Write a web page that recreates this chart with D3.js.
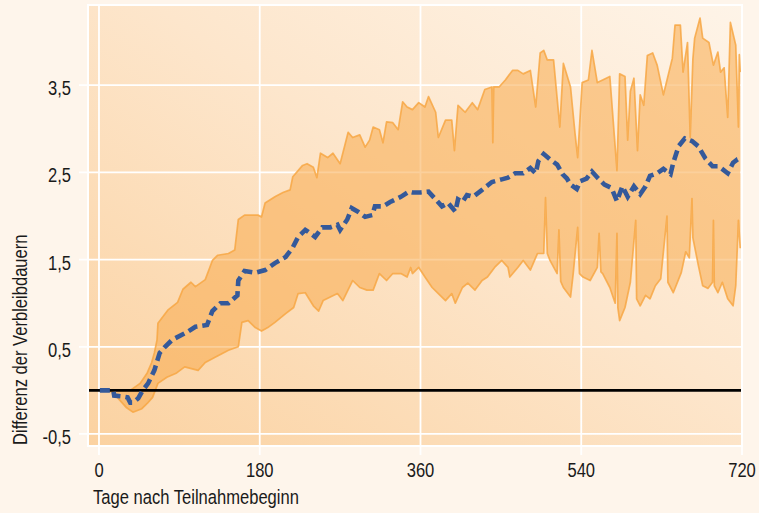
<!DOCTYPE html>
<html>
<head>
<meta charset="utf-8">
<script src="https://cdn.jsdelivr.net/npm/d3@7"></script>
<style>
  html, body { margin: 0; padding: 0; background: #fef5eb; }
  svg { display: block; }
  text { font-family: "Liberation Sans", Arial, sans-serif; fill: #1a1a1a; }
</style>
</head>
<body>
<svg id="chart" width="759" height="513"></svg>
<script>
// ---- data ----
const xTicks = [0, 180, 360, 540, 720];
const yTicks = [-0.5, 0.5, 1.5, 2.5, 3.5];
const xTitle = "Tage nach Teilnahmebeginn";
const yTitle = "Differenz der Verbleibdauern";

// upper edge of the confidence band [day, value]
const bandUpper = [[0,0],[35,0],[46,0.08],[54,0.20],[59,0.32],[62,0.43],[65,0.58],[66,0.77],[77,0.92],[88,1.01],[94,1.16],[103,1.24],[108,1.19],[119,1.27],[127,1.49],[133,1.55],[145,1.57],[152,1.61],[156,1.96],[163,2.01],[171,2.01],[178,2.01],[182,1.99],[186,2.15],[197,2.22],[206,2.27],[214,2.30],[217,2.45],[228,2.58],[233,2.60],[240,2.56],[244,2.44],[248,2.72],[256,2.67],[262,2.72],[270,2.60],[273,2.72],[279,2.96],[284,2.90],[292,2.93],[298,2.79],[303,2.87],[307,3.02],[314,2.99],[318,2.84],[322,3.08],[329,3.07],[335,2.99],[340,3.31],[345,3.25],[351,3.22],[358,3.30],[365,3.25],[369,3.37],[377,3.19],[380,2.90],[388,3.10],[395,3.10],[398,2.75],[402,3.27],[410,3.19],[418,3.30],[424,3.22],[432,3.45],[440,3.48],[441,2.84],[442,3.48],[448,3.48],[455,3.56],[463,3.67],[469,3.67],[475,3.63],[483,3.67],[489,3.25],[494,3.87],[498,3.90],[502,3.79],[509,3.79],[516,3.02],[520,3.75],[528,3.48],[533,2.95],[536,2.67],[541,3.53],[548,3.56],[552,3.90],[558,3.53],[564,3.56],[572,3.60],[580,2.52],[583,3.63],[589,3.60],[592,2.87],[595,3.43],[599,3.58],[603,2.75],[606,3.39],[610,3.27],[614,3.84],[620,3.87],[625,3.73],[632,3.39],[642,3.81],[645,4.19],[651,4.19],[654,3.65],[659,3.99],[662,2.90],[665,3.80],[667,4.04],[673,4.27],[676,4.04],[683,3.99],[688,3.73],[693,3.88],[696,3.65],[700,3.70],[704,3.13],[707,4.22],[713,3.96],[716,3.02],[717,3.85],[718,3.65]];

// lower edge of the confidence band [day, value]
const bandLower = [[0,0],[12,-0.01],[16,-0.03],[24,-0.12],[31,-0.20],[38,-0.25],[48,-0.21],[54,-0.15],[60,-0.08],[66,0.08],[76,0.15],[87,0.20],[96,0.27],[111,0.23],[119,0.32],[130,0.38],[145,0.46],[156,0.50],[160,0.78],[167,0.80],[175,0.72],[182,0.68],[189,0.72],[197,0.78],[209,0.88],[218,0.95],[223,1.11],[231,1.12],[240,0.97],[246,0.91],[251,1.03],[259,1.07],[267,1.11],[273,1.03],[284,1.26],[292,1.18],[300,1.15],[307,1.15],[314,1.34],[322,1.26],[329,1.34],[338,1.34],[345,1.30],[349,1.41],[351,1.34],[358,1.41],[365,1.30],[373,1.18],[380,1.11],[388,1.03],[395,1.11],[399,1.00],[407,1.18],[413,1.23],[421,1.15],[429,1.26],[435,1.30],[443,1.41],[451,1.49],[458,1.41],[460,1.30],[469,1.41],[475,1.49],[483,1.38],[491,1.57],[498,1.57],[500,2.21],[502,1.57],[505,1.49],[513,1.34],[515,1.84],[517,1.25],[520,1.18],[528,1.07],[531,1.34],[536,1.87],[538,1.34],[542,1.30],[550,1.26],[558,1.41],[560,1.80],[562,1.36],[564,1.34],[572,1.18],[578,1.00],[580,1.80],[581,0.95],[583,0.80],[589,0.95],[595,1.24],[601,1.95],[602,1.05],[606,0.97],[612,1.09],[617,1.05],[623,1.20],[629,1.28],[636,2.00],[637,1.24],[643,1.12],[652,1.35],[657,1.59],[661,1.52],[664,2.20],[665,1.75],[671,1.44],[676,1.20],[682,1.17],[687,1.24],[688,1.95],[689,1.20],[693,1.12],[698,1.24],[704,1.05],[710,0.97],[713,1.20],[716,1.95],[718,1.63]];

// point estimate [day, value]
const meanLine = [[1,0],[16,0],[17,-0.06],[27,-0.07],[32,-0.08],[35,-0.14],[38,-0.14],[44,-0.09],[49,0],[55,0.08],[62,0.23],[68,0.43],[74,0.50],[82,0.58],[99,0.67],[108,0.73],[121,0.75],[127,0.91],[136,1.00],[145,1.00],[155,1.09],[156,1.26],[163,1.37],[175,1.35],[186,1.38],[197,1.46],[209,1.53],[217,1.64],[223,1.76],[231,1.84],[234,1.82],[242,1.76],[250,1.87],[259,1.87],[267,1.90],[270,1.84],[278,1.96],[283,2.09],[290,2.05],[298,1.99],[306,2.01],[309,2.11],[318,2.11],[326,2.16],[338,2.22],[347,2.28],[351,2.27],[360,2.27],[369,2.28],[377,2.19],[384,2.11],[391,2.15],[399,2.05],[402,2.19],[407,2.16],[412,2.24],[419,2.22],[429,2.30],[440,2.39],[451,2.42],[458,2.44],[466,2.49],[475,2.49],[483,2.55],[489,2.49],[492,2.63],[498,2.71],[505,2.65],[513,2.59],[519,2.48],[524,2.43],[528,2.36],[535,2.31],[539,2.40],[546,2.43],[552,2.51],[559,2.43],[566,2.36],[574,2.32],[580,2.17],[586,2.34],[592,2.22],[599,2.34],[606,2.25],[612,2.34],[617,2.46],[625,2.49],[632,2.54],[640,2.48],[643,2.61],[649,2.80],[656,2.89],[664,2.86],[671,2.80],[679,2.66],[687,2.57],[694,2.57],[704,2.49],[710,2.61],[715,2.65],[718,2.66]];

// ---- layout ----
const svg = d3.select("#chart");
const W = 759, H = 513;
const pLeft = 88, pRight = 742, pTop = 5, pBottom = 446;
const FS = 19.5, SX = 0.85; // condensed look

const x = d3.scaleLinear().domain([-12.3, 720]).range([pLeft, pRight]);
const y = d3.scaleLinear().domain([-0.638, 4.42]).range([pBottom, pTop]);

svg.append("rect").attr("width", W).attr("height", H).attr("fill", "#fef5eb");

const defs = svg.append("defs");
const grad = defs.append("linearGradient").attr("id", "panelGrad")
  .attr("x1", "0%").attr("y1", "100%").attr("x2", "100%").attr("y2", "0%");
grad.append("stop").attr("offset", "0%").attr("stop-color", "#fbd2a1");
grad.append("stop").attr("offset", "55%").attr("stop-color", "#fde6cc");
grad.append("stop").attr("offset", "100%").attr("stop-color", "#fef4e8");

svg.append("rect").attr("x", pLeft).attr("y", pTop)
  .attr("width", pRight - pLeft).attr("height", pBottom - pTop)
  .attr("fill", "url(#panelGrad)");

// gridlines + ticks (white)
const grid = svg.append("g");
grid.selectAll("line.h").data(yTicks).join("line")
  .attr("x1", pLeft - 9).attr("x2", pRight)
  .attr("y1", d => y(d)).attr("y2", d => y(d))
  .attr("stroke", "#ffffff").attr("stroke-width", 1.8);
grid.selectAll("line.v").data(xTicks).join("line")
  .attr("y1", pTop).attr("y2", pBottom + 9)
  .attr("x1", d => x(d)).attr("x2", d => x(d))
  .attr("stroke", "#ffffff").attr("stroke-width", 1.8);

// band
const line = d3.line().x(d => x(d[0])).y(d => y(d[1]));
const poly = bandUpper.concat(bandLower.slice().reverse());
svg.append("path").attr("d", line(poly) + "Z")
  .attr("fill", "rgb(247,170,75)").attr("fill-opacity", 0.55).attr("stroke", "none");
[bandUpper, bandLower].forEach(b => {
  svg.append("path").attr("d", line(b))
    .attr("fill", "none").attr("stroke", "#f7a744").attr("stroke-width", 1.7)
    .attr("stroke-opacity", 0.85).attr("stroke-linejoin", "round");
});

// zero line
svg.append("line").attr("x1", pLeft).attr("x2", pRight)
  .attr("y1", y(0)).attr("y2", y(0))
  .attr("stroke", "#000000").attr("stroke-width", 2.6);

// mean line
svg.append("path").attr("d", line(meanLine))
  .attr("fill", "none").attr("stroke", "#34599a").attr("stroke-width", 4.6)
  .attr("stroke-dasharray", "10,5");

// panel border
svg.append("rect").attr("x", pLeft).attr("y", pTop)
  .attr("width", pRight - pLeft).attr("height", pBottom - pTop)
  .attr("fill", "none").attr("stroke", "#ffffff").attr("stroke-width", 2);

// tick labels
const fmt = d => d3.format(".1f")(d).replace(".", ",").replace("\u2212", "-");
svg.append("g").selectAll("text").data(yTicks).join("text")
  .attr("transform", d => `translate(71,${y(d) + 10}) scale(${SX},1)`)
  .attr("text-anchor", "end").attr("font-size", FS)
  .text(fmt);
svg.append("g").selectAll("text").data(xTicks).join("text")
  .attr("transform", d => `translate(${x(d)},477) scale(${SX},1)`)
  .attr("text-anchor", "middle").attr("font-size", FS)
  .text(d => d);

// axis titles
svg.append("text").attr("transform", `translate(93,504) scale(${SX},1)`)
  .attr("font-size", FS).text(xTitle);
svg.append("text").attr("transform", `translate(27,445) rotate(-90) scale(${SX},1)`)
  .attr("font-size", FS).text(yTitle);
</script>
</body>
</html>
